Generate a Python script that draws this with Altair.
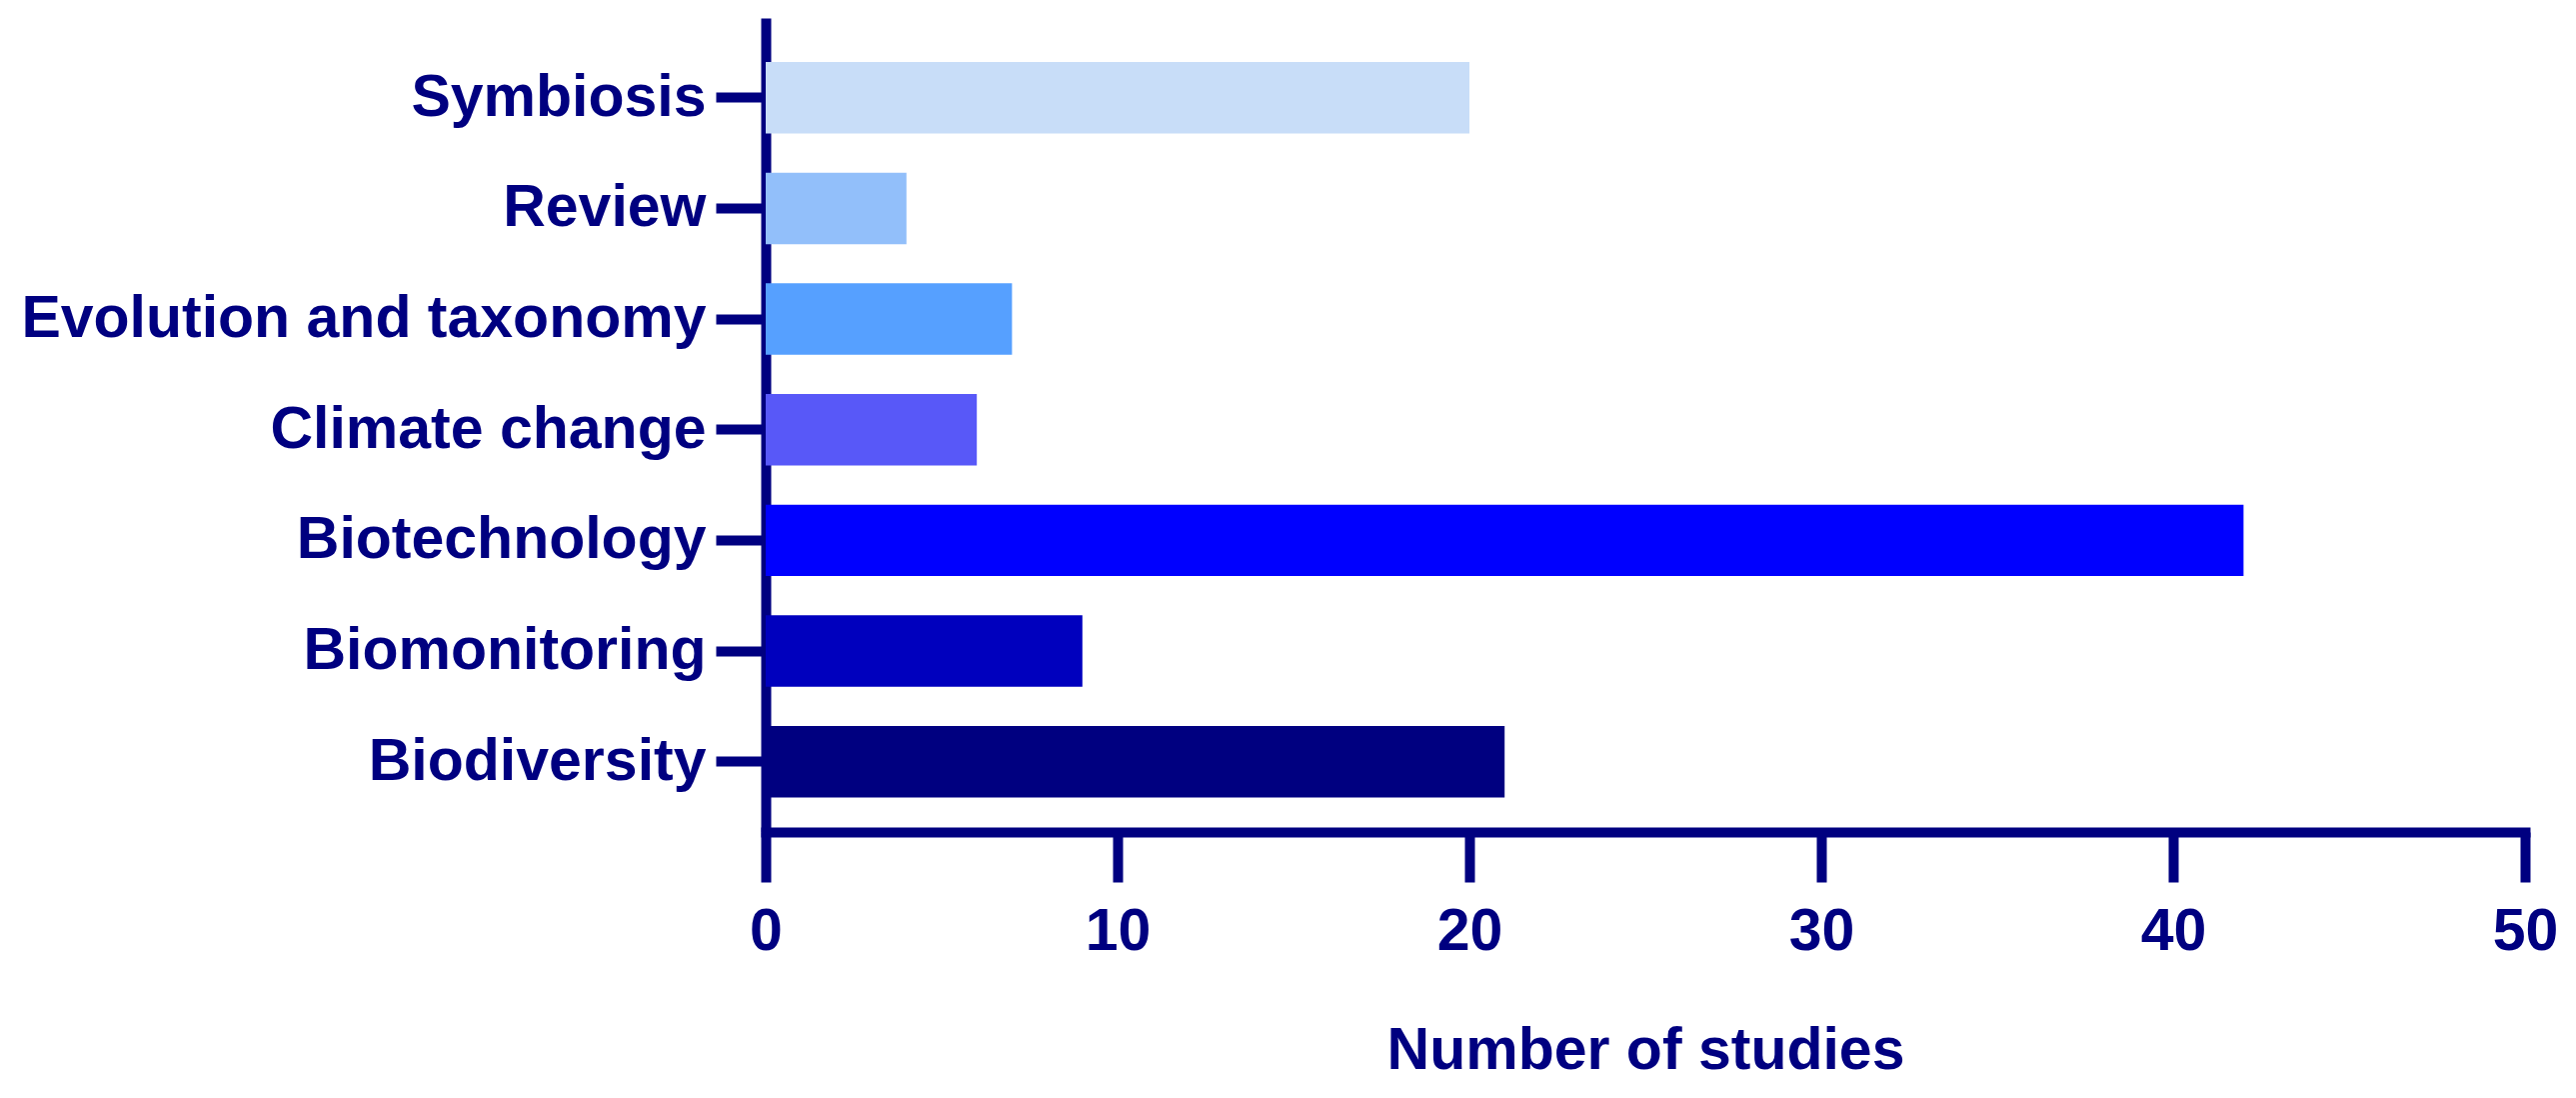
import altair as alt
import pandas as pd

categories = ["Symbiosis", "Review", "Evolution and taxonomy", "Climate change",
              "Biotechnology", "Biomonitoring", "Biodiversity"]
studies = [20, 4, 7, 6, 42, 9, 21]
colors = ["#C8DDF8", "#92BFFA", "#56A0FF", "#5858F8", "#0000FF", "#0000BE", "#000080"]
x_ticks = [0, 10, 20, 30, 40, 50]

NAVY = "#000080"
FONT = "Liberation Sans"
FS = 59

df = pd.DataFrame({"category": categories, "studies": studies})

chart = alt.Chart(df).mark_bar().encode(
    x=alt.X(
        "studies:Q",
        scale=alt.Scale(domain=[0, 50], nice=False, zero=True),
        axis=alt.Axis(
            values=x_ticks, title="Number of studies", grid=False,
            domainColor=NAVY, domainWidth=10, domainCap="square",
            tickColor=NAVY, tickWidth=10, tickSize=50,
            labelFont=FONT, labelFontSize=FS, labelFontWeight="bold", labelColor=NAVY,
            labelPadding=20, labelFlush=False, labelOverlap=False,
            titleFont=FONT, titleFontSize=FS, titleFontWeight="bold", titleColor=NAVY,
            titleY=236, titleBaseline="alphabetic",
        ),
    ),
    y=alt.Y(
        "category:N", sort=categories,
        scale=alt.Scale(paddingInner=0.354, paddingOuter=0.355, align=0.56),
        axis=alt.Axis(
            title=None, grid=False,
            domainColor=NAVY, domainWidth=10,
            tickColor=NAVY, tickWidth=10, tickSize=50,
            labelFont=FONT, labelFontSize=FS, labelFontWeight="bold", labelColor=NAVY,
            labelPadding=10, labelOverlap=False, labelLimit=1000,
        ),
    ),
    color=alt.Color("category:N", scale=alt.Scale(domain=categories, range=colors), legend=None),
).properties(
    width=1760, height=814,
    padding={"left": 758, "top": 10, "right": 40, "bottom": 250},
    autosize=alt.AutoSizeParams(type="none"),
    background="white",
).configure_view(stroke="transparent", strokeWidth=0)

chart.save("out.html", embed_options={"renderer": "svg", "actions": False})
